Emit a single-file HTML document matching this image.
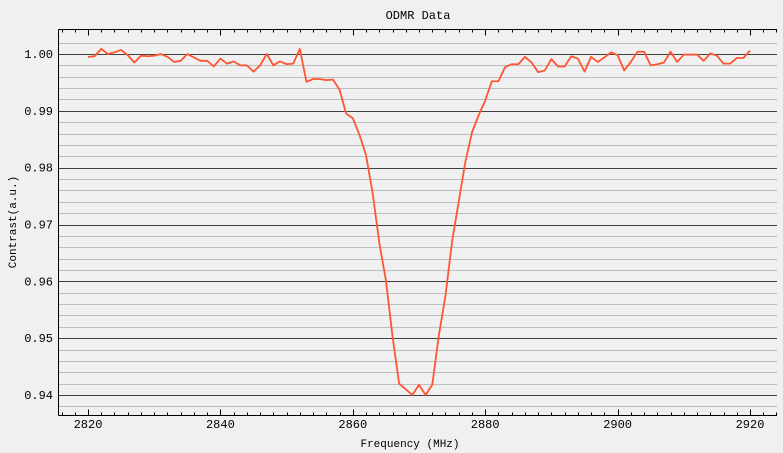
<!DOCTYPE html>
<html><head><meta charset="utf-8"><style>
html,body{margin:0;padding:0;background:#f0f0f0;}
svg{display:block;font-family:"Liberation Mono","DejaVu Sans Mono",monospace;}
</style></head><body>
<svg id="chart" width="783" height="453" viewBox="0 0 783 453">
<rect x="0" y="0" width="783" height="453" fill="#f0f0f0"/>
<text x="418" y="19" font-size="12" text-anchor="middle" fill="#000">ODMR Data</text>
<text x="410" y="447" font-size="11" text-anchor="middle" fill="#000">Frequency (MHz)</text>
<text x="16" y="222" font-size="11" text-anchor="middle" fill="#000" transform="rotate(-90 16 222)">Contrast(a.u.)</text>
<g id="grid"></g><g id="axes"></g><g id="series"></g>
</svg>
<script>
const freqStart = 2820;
const contrast = [0.9995,0.9996,1.0009,1.0000,1.0003,1.0007,0.9998,0.9985,0.9997,0.9996,
0.9997,1.0000,0.9995,0.9986,0.9988,1.0000,0.9994,0.9988,0.9988,0.9978,
0.9992,0.9983,0.9987,0.9980,0.9980,0.9969,0.9980,1.0000,0.9980,0.9987,
0.9982,0.9983,1.0009,0.9951,0.9956,0.9956,0.9954,0.9955,0.9937,0.9895,
0.9887,0.9858,0.9822,0.9755,0.9668,0.9602,0.9503,0.9420,0.9410,0.9400,
0.9418,0.9400,0.9418,0.9505,0.9575,0.9670,0.9740,0.9810,0.9862,0.9892,
0.9918,0.9952,0.9952,0.9977,0.9982,0.9982,0.9995,0.9985,0.9968,0.9971,
0.9991,0.9978,0.9978,0.9996,0.9992,0.9969,0.9995,0.9986,0.9994,1.0003,
0.9998,0.9971,0.9986,1.0004,1.0004,0.9980,0.9982,0.9985,1.0004,0.9986,
0.9999,0.9999,0.9999,0.9988,1.0001,0.9997,0.9983,0.9983,0.9993,0.9993,1.0006];
const xTicks = [2820,2840,2860,2880,2900,2920];
const yTicks = [0.94,0.95,0.96,0.97,0.98,0.99,1.00];
const yTickLabels = ["0.94","0.95","0.96","0.97","0.98","0.99","1.00"];

const NS="http://www.w3.org/2000/svg";
const L=58.5,R=777,T=29.5,B=415.5;
function xs(f){return 88+(f-2820)*(750-88)/100;}
function ys(v){return 54+(1.0-v)*(395-54)/0.06;}
function mk(tag,attrs,parent){const e=document.createElementNS(NS,tag);for(const k in attrs)e.setAttribute(k,attrs[k]);parent.appendChild(e);return e;}
const grid=document.getElementById('grid'),axes=document.getElementById('axes'),series=document.getElementById('series');
for(let i=-3;i<=32;i++){
  const v=0.938+i*0.002; const y=Math.round(ys(v))+0.5;
  if(y<T+1||y>B-1)continue;
  const major=Math.abs(Math.round(v*100)-v*100)<1e-6;
  const ln=mk('line',{x1:L,x2:R,y1:y,y2:y,stroke:major?'#404040':'#bdbdbd','stroke-width':1},grid);
  
  
}
yTicks.forEach((v,i)=>{
  const t=mk('text',{x:53,y:ys(v)+4,'font-size':12,'text-anchor':'end',fill:'#000'},axes);
  t.textContent=yTickLabels[i];
  
  
});
const yl=mk('line',{x1:L,x2:L,y1:T,y2:B,stroke:'#000','stroke-width':1},axes);


const xl=mk('line',{x1:L,x2:R,y1:B,y2:B,stroke:'#000','stroke-width':1},axes);


const tl=mk('line',{x1:L,x2:R,y1:T,y2:T,stroke:'#000','stroke-width':1},axes);


for(let f=2814;f<=2928;f+=2){
  const x=Math.round(xs(f))+0.5; if(x<L+1||x>R)continue;
  const major=(f%20===0); const len=major?6:3;
  const a=mk('line',{x1:x,x2:x,y1:B,y2:B-len,stroke:'#000','stroke-width':1},axes);
  
  
  const b=mk('line',{x1:x,x2:x,y1:T,y2:T+len,stroke:'#000','stroke-width':1},axes);
  
  
}
xTicks.forEach(f=>{
  const t=mk('text',{x:xs(f),y:428,'font-size':12,'text-anchor':'middle',fill:'#000'},axes);
  t.textContent=String(f);
  
  
});
const pts=contrast.map((v,i)=>xs(freqStart+i).toFixed(2)+','+ys(v).toFixed(2)).join(' ');
const pl=mk('polyline',{points:pts,fill:'none',stroke:'#ff5533','stroke-width':1.8,'stroke-linejoin':'round'},series);


</script>
</body></html>
